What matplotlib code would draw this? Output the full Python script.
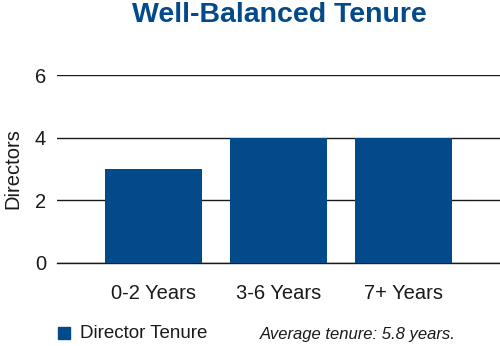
import matplotlib.pyplot as plt
from matplotlib.patches import Rectangle

categories = ["0-2 Years", "3-6 Years", "7+ Years"]
directors = [3, 4, 4]
y_ticks = [0, 2, 4, 6]
series_name = "Director Tenure"
note = "Average tenure: 5.8 years."
title = "Well-Balanced Tenure"

blue = "#034a8a"
plt.rcParams['font.family'] = ['Liberation Sans', 'DejaVu Sans']

fig = plt.figure(figsize=(5.0, 3.46), dpi=100)
ax = fig.add_axes([57 / 500, (346 - 263) / 346, (500 - 57) / 500, (263 - 75) / 346])

x = range(len(categories))
ax.bar(x, directors, width=0.776, color=blue, zorder=3)
ax.set_xlim(-0.772, 2.772)
ax.set_ylim(0, 6)
ax.set_yticks(y_ticks)
ax.set_xticks(list(x))
ax.set_xticklabels(categories)
ax.yaxis.grid(True, color="#1a1a1a", linewidth=1.0, zorder=1)
for s in ("left", "right", "top"):
    ax.spines[s].set_visible(False)
ax.spines["bottom"].set_color("#1a1a1a")
ax.spines["bottom"].set_linewidth(1.0)
ax.tick_params(axis="both", length=0, labelsize=14.5, colors="#1a1a1a")
ax.tick_params(axis="y", pad=8)
ax.tick_params(axis="x", pad=15)
ax.set_ylabel("Directors", fontsize=14.5, color="#1a1a1a", labelpad=9)

fig.text(0.558, 1 - 15 / 346, title, ha="center", va="center",
         fontsize=20.5, fontweight="bold", color=blue)

# legend key and note along the bottom
fig.patches.append(Rectangle((58 / 500, 1 - 339 / 346), 12 / 500, 12 / 346,
                             transform=fig.transFigure, color=blue))
fig.text(80 / 500, 1 - 333 / 346, series_name, ha="left", va="center",
         fontsize=13.5, color="#1a1a1a")
fig.text(260 / 500, 1 - 334 / 346, note, ha="left", va="center",
         fontsize=12, style="italic", color="#1a1a1a")

fig.savefig("out.png", dpi=100)
